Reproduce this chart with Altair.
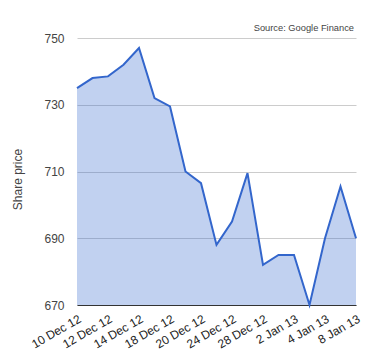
import altair as alt
import pandas as pd

dates = ["10 Dec 12", "11 Dec 12", "12 Dec 12", "13 Dec 12", "14 Dec 12",
         "17 Dec 12", "18 Dec 12", "19 Dec 12", "20 Dec 12", "21 Dec 12",
         "24 Dec 12", "26 Dec 12", "28 Dec 12", "31 Dec 12", "2 Jan 13",
         "3 Jan 13", "4 Jan 13", "7 Jan 13", "8 Jan 13"]
prices = [735, 738, 738.5, 742, 747, 732, 729.5, 710, 706.5, 688,
          695, 709.5, 682, 685, 685, 670, 690, 705.5, 690]
tick_labels = ["10 Dec 12", "12 Dec 12", "14 Dec 12", "18 Dec 12", "20 Dec 12",
               "24 Dec 12", "28 Dec 12", "2 Jan 13", "4 Jan 13", "8 Jan 13"]
y_ticks = [670, 690, 710, 730, 750]
source_text = "Source: Google Finance"

df = pd.DataFrame({"date": dates, "price": prices})

FONT = "Arial, Liberation Sans"

x = alt.X("date:N", sort=dates,
          scale=alt.Scale(type="point", padding=0),
          axis=alt.Axis(values=tick_labels, title=None, labelAngle=-30,
                        labelAlign="right", labelBaseline="top", labelPadding=8,
                        ticks=False, grid=False, domain=True, domainColor="#333333",
                        domainWidth=1, labelFontSize=12, labelColor="#222222",
                        labelFont=FONT, labelOverlap=False, labelBound=False))
y = alt.Y("price:Q",
          scale=alt.Scale(domain=[670, 750], zero=False, nice=False),
          axis=alt.Axis(values=y_ticks, title="Share price", ticks=False, domain=False,
                        grid=True, gridColor="#cccccc", labelPadding=13,
                        labelFontSize=12, labelColor="#444444", labelFont=FONT,
                        titleFont=FONT, titleFontSize=12, titleFontWeight="normal",
                        titleColor="#444444", titleAngle=-90, titleX=-60, titleY=141,
                        titleAlign="center", titleBaseline="middle"))

base = alt.Chart(df)
area = base.mark_area(color="#3366cc", opacity=0.3).encode(x=x, y=y, y2=alt.datum(670))
line = base.mark_line(color="#3366cc", strokeWidth=2).encode(x=x, y=y)
src = alt.Chart(pd.DataFrame({"t": [source_text]})).mark_text(
    align="right", baseline="alphabetic", fontSize=9.3, font=FONT, color="#444444"
).encode(x=alt.value(277), y=alt.value(-7), text="t:N")

chart = alt.layer(area, line, src).properties(
    width=279, height=267,
    autosize=alt.AutoSizeParams(type="none"),
    padding={"left": 69, "top": 30, "right": 12, "bottom": 60},
).configure_view(stroke=None)

chart.save("out.html", embed_options={"renderer": "svg", "actions": False})
